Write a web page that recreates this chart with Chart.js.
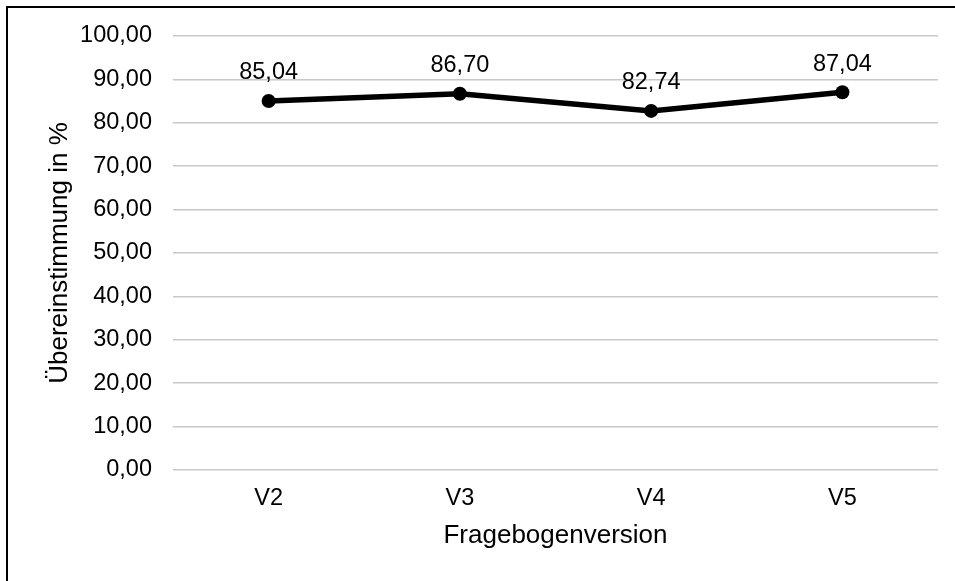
<!DOCTYPE html>
<html>
<head>
<meta charset="utf-8">
<script src="https://cdn.jsdelivr.net/npm/chart.js@4"></script>
<style>
    body { margin: 0; background: #fff; }
    .frame {
        position: absolute; left: 6px; top: 6px; width: 1200px; height: 800px;
        border-left: 2px solid #000; border-top: 2px solid #000;
    }
    #chart { position: absolute; left: 0; top: 0; }
</style>
</head>
<body>
<div class="frame"></div>
<canvas id="chart" width="955" height="581"></canvas>
<script>
// Chart data
const versions = ['V2', 'V3', 'V4', 'V5'];
const agreement = [85.04, 86.70, 82.74, 87.04];
const yTicks = [0, 10, 20, 30, 40, 50, 60, 70, 80, 90, 100];

const FONT = "'Liberation Sans', Arial, sans-serif";

function deComma(v) {
    return Number(v).toFixed(2).replace('.', ',');
}

// Value labels above each point
const pointLabels = {
    id: 'pointLabels',
    afterDatasetsDraw(chart) {
        const ctx = chart.ctx;
        const meta = chart.getDatasetMeta(0);
        ctx.save();
        ctx.font = '23.5px ' + FONT;
        ctx.fillStyle = '#000';
        ctx.textAlign = 'center';
        ctx.textBaseline = 'middle';
        meta.data.forEach((pt, i) => {
            ctx.fillText(deComma(agreement[i]), pt.x, pt.y - 28);
        });
        ctx.restore();
    }
};

document.addEventListener('DOMContentLoaded', function() {
    const ctx = document.getElementById('chart');
    new Chart(ctx, {
        type: 'line',
        data: {
            labels: versions,
            datasets: [{
                data: agreement,
                borderColor: '#000',
                backgroundColor: '#000',
                borderWidth: 5.5,
                pointRadius: 7,
                pointHoverRadius: 7,
                pointBackgroundColor: '#000',
                pointBorderWidth: 0,
                tension: 0
            }]
        },
        options: {
            responsive: false,
            animation: false,
            layout: { padding: { top: 36, right: 17, left: 44, bottom: 10 } },
            plugins: {
                legend: { display: false },
                tooltip: { enabled: false }
            },
            scales: {
                x: {
                    offset: true,
                    grid: { display: false, drawTicks: false },
                    border: { display: false },
                    ticks: { color: '#000', padding: 14, font: { family: FONT, size: 23.5 } },
                    title: {
                        display: true,
                        text: 'Fragebogenversion',
                        color: '#000',
                        padding: { top: 4, bottom: 20 },
                        font: { family: FONT, size: 26 }
                    },
                    afterFit(scale) { scale.height = 101; }
                },
                y: {
                    min: 0,
                    max: 100,
                    afterBuildTicks(scale) {
                        scale.ticks = yTicks.map(v => ({ value: v }));
                    },
                    grid: { color: '#c8c8c8', lineWidth: 1.5, drawTicks: false },
                    border: { display: false },
                    ticks: {
                        color: '#000',
                        padding: 21,
                        font: { family: FONT, size: 23.5 },
                        callback: v => deComma(v)
                    },
                    title: {
                        display: true,
                        text: 'Übereinstimmung in %',
                        color: '#000',
                        padding: { top: 0, bottom: 0 },
                        font: { family: FONT, size: 26 }
                    },
                    afterFit(scale) { scale.width = 129; }
                }
            }
        },
        plugins: [pointLabels]
    });
});
</script>
</body>
</html>
